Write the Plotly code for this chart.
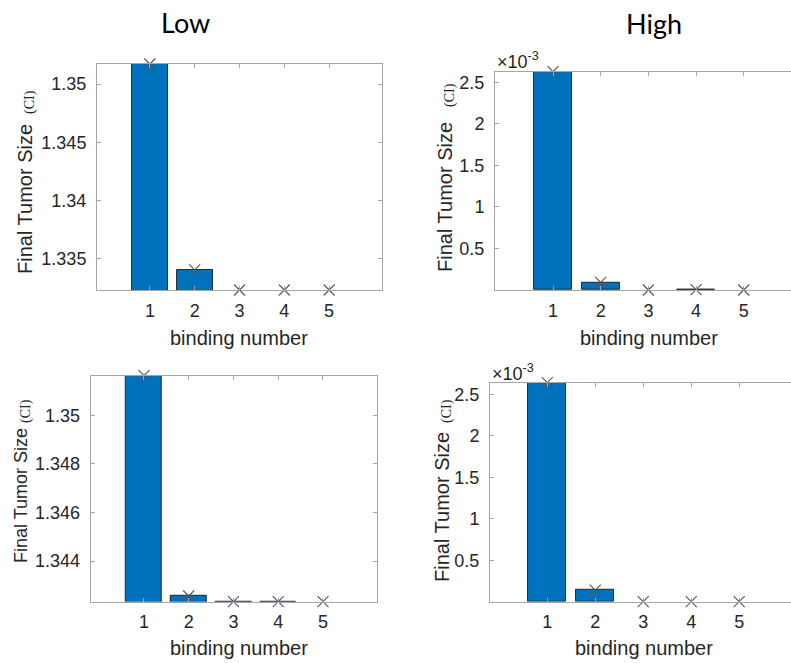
import plotly.graph_objects as go

# ---- data ----
binding = [1, 2, 3, 4, 5]
low_top = [1.35172, 1.33403, 1.33231, 1.33231, 1.33231]
high_top = [2.627e-3, 0.092e-3, 0.0, 0.004e-3, 0.0]
low_bottom = [1.35163, 1.34256, 1.342328, 1.342328, 1.342325]
high_bottom = [2.639e-3, 0.140e-3, 0.0, 0.0, 0.0]

ticks_low_top = [1.335, 1.34, 1.345, 1.35]
ticks_low_bottom = [1.344, 1.346, 1.348, 1.35]
ticks_high = [0.5e-3, 1e-3, 1.5e-3, 2e-3, 2.5e-3]
ticktext_high = ["0.5", "1", "1.5", "2", "2.5"]

W, H = 791, 663
BAR = "#0072BD"
AX = "#a6a6a6"
TXT = "#262626"
FONT = "Liberation Sans, Arial, sans-serif"
SERIF = "Liberation Serif, serif"

fig = go.Figure()

panels = [
    (low_top, "x", "y", (97, 382), (64, 290), [-0.18, 6.18], [1.33231, 1.35172],
     ticks_low_top, ["1.335", "1.34", "1.345", "1.35"], "ticks"),
    (high_top, "x2", "y2", (495, 791), (71.7, 290), [-0.216, 5.99], [0.0, 2.627e-3],
     ticks_high, ticktext_high, False),
    (low_bottom, "x3", "y3", (90.7, 376.7), (375.7, 601.7), [-0.19, 6.2], [1.342325, 1.35163],
     ticks_low_bottom, ["1.344", "1.346", "1.348", "1.35"], "ticks"),
    (high_bottom, "x4", "y4", (490, 791), (382.7, 601.7), [-0.194, 6.08], [0.0, 2.639e-3],
     ticks_high, ticktext_high, False),
]

layout_axes = {}
for vals, xa, ya, xd, yd, xr, yr, tv, tt, my in panels:
    # bars sitting exactly on the axis floor show no outline
    lw = [0.9 if v > yr[0] else 0 for v in vals]
    fig.add_trace(go.Bar(
        x=binding, y=vals, xaxis=xa, yaxis=ya, width=0.8,
        marker=dict(color=BAR, line=dict(color="#1a1a1a", width=lw)),
        showlegend=False,
    ))
    fig.add_trace(go.Scatter(
        x=binding, y=vals, xaxis=xa, yaxis=ya, mode="markers",
        marker=dict(symbol="x-thin", size=11, line=dict(color="#555555", width=1.1)),
        cliponaxis=False, showlegend=False,
    ))
    xkey = "xaxis" + xa[1:]
    ykey = "yaxis" + ya[1:]
    layout_axes[xkey] = dict(
        domain=[xd[0] / W, xd[1] / W], range=xr, anchor=ya,
        tickvals=binding, ticktext=[str(b) for b in binding],
        showline=True, linecolor=AX, linewidth=1, mirror="ticks",
        ticks="inside", ticklen=4, tickcolor=AX,
        showgrid=False, zeroline=False, fixedrange=True,
        tickfont=dict(family=FONT, size=18, color=TXT),
        ticklabelstandoff=4,
    )
    layout_axes[ykey] = dict(
        domain=[1 - yd[1] / H, 1 - yd[0] / H], range=yr, anchor=xa,
        tickvals=tv, ticktext=tt,
        showline=True, linecolor=AX, linewidth=1, mirror=my,
        ticks="inside", ticklen=4, tickcolor=AX,
        showgrid=False, zeroline=False, fixedrange=True,
        tickfont=dict(family=FONT, size=18, color=TXT),
        ticklabelstandoff=6,
    )

fig.update_layout(**layout_axes)

ann = []
def add_text(text, x, y, size, angle=0, color=TXT, family=FONT, xanchor="center"):
    ann.append(dict(text=text, x=x / W, y=1 - y / H, xref="paper", yref="paper",
                    showarrow=False, textangle=angle, xanchor=xanchor, yanchor="middle",
                    font=dict(family=family, size=size, color=color)))

add_text("Low", 185, 23, 27, color="#000000", family="Lato, Open Sans, sans-serif")
add_text("High", 654, 24, 27, color="#000000", family="Lato, Open Sans, sans-serif")

# y-axis titles: main text plus small "(CI)" unit
for (mx, my_, ms), (cx, cy) in [
    ((25, 199, 20), (30, 102)),
    ((445, 197, 20), (450, 95)),
    ((21, 496, 18), (26, 411)),
    ((442, 507, 20), (447, 411)),
]:
    add_text("Final Tumor Size", mx, my_, ms, angle=-90)
    add_text("(CI)", cx, cy, 14, angle=-90, family=SERIF)

add_text("binding number", 239, 338, 20)
add_text("binding number", 649, 338, 20)
add_text("binding number", 239, 648, 20)
add_text("binding number", 644, 648, 20)

add_text("×10<sup>-3</sup>", 495, 60, 18, xanchor="left")
add_text("×10<sup>-3</sup>", 490, 372, 18, xanchor="left")

fig.update_layout(
    width=W, height=H, margin=dict(l=0, r=0, t=0, b=0),
    paper_bgcolor="white", plot_bgcolor="white",
    annotations=ann, showlegend=False, bargap=0,
)

fig.write_html("out.html")
